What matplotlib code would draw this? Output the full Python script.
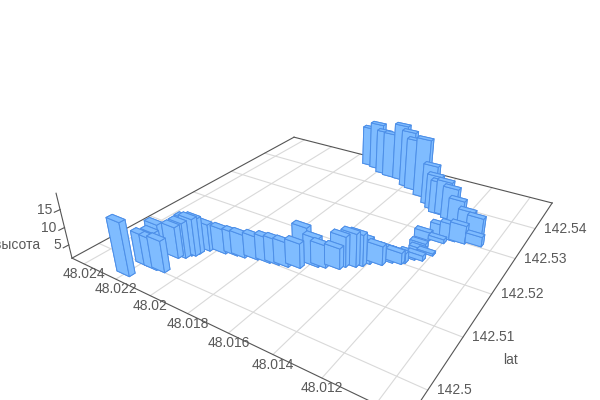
#!/usr/bin/env python3

import matplotlib
matplotlib.use("Agg")
import matplotlib.pyplot as plt
import matplotlib.transforms as mtrans
from mpl_toolkits.mplot3d import proj3d
import numpy as np

plt.rcParams['font.family'] = ['Liberation Sans', 'DejaVu Sans']

lng = [48.02205, 48.02195, 48.02145, 48.02105, 48.02187, 48.02208, 48.02134, 48.02108,
       48.02099, 48.02084, 48.02081, 48.02060, 48.01988, 48.01935, 48.01898, 48.01842,
       48.01784, 48.01743, 48.01701, 48.01655, 48.01655, 48.01596, 48.01567, 48.01513,
       48.01500, 48.01464, 48.01443, 48.01426, 48.01379, 48.01351, 48.01315, 48.01305,
       48.01282, 48.01251, 48.01231, 48.01270, 48.01281, 48.01294, 48.01231, 48.01248,
       48.01196, 48.01152, 48.01082, 48.01098, 48.01151, 48.01215, 48.01264, 48.01307,
       48.01336, 48.01369, 48.01407, 48.01477, 48.01551, 48.01588, 48.01657, 48.01721,
       48.01770, 48.01830, 48.01885]
lat = [142.4972, 142.5003, 142.5003, 142.5005, 142.5018, 142.5032, 142.5041, 142.5047,
       142.5056, 142.5059, 142.5066, 142.5080, 142.5087, 142.5092, 142.5094, 142.5100,
       142.5103, 142.5106, 142.5109, 142.5116, 142.5134, 142.5132, 142.5136, 142.5144,
       142.5153, 142.5161, 142.5168, 142.5178, 142.5185, 142.5198, 142.5202, 142.5207,
       142.5222, 142.5226, 142.5246, 142.5247, 142.5257, 142.5282, 142.5286, 142.5305,
       142.5300, 142.5302, 142.5308, 142.5321, 142.5330, 142.5344, 142.5358, 142.5367,
       142.5365, 142.5375, 142.5387, 142.5406, 142.5422, 142.5427, 142.5446, 142.5447,
       142.5452, 142.5465, 142.5470]
height = [16.0, 9.9, 9.8, 10.0, 9.4, 10.1, 10.0, 11.1, 11.7, 11.7, 11.2, 8.8, 8.1, 7.7, 7.7,
          7.7, 8.2, 8.2, 8.0, 8.1, 10.9, 9.2, 7.5, 7.0, 9.7, 10.5, 10.0, 8.1, 6.5, 4.9, 4.3,
          3.8, 2.7, 2.5, 1.65, 1.95, 2.5, 3.4, 2.2, 4.3, 5.9, 6.4, 3.9, 7.9, 8.0, 9.1, 10.8,
          11.5, 11.0, 11.7, 13.5, 19.4, 17.2, 19.0, 19.1, 15.5, 15.3, 16.3, 14.0]

lng_ticks = [48.024, 48.022, 48.02, 48.018, 48.016, 48.014, 48.012, 48.01]
lat_ticks = [142.5, 142.51, 142.52, 142.53, 142.54]
z_ticks = [5, 10, 15]
lng_lim = (48.0248, 48.0089)
lat_lim = (142.4953, 142.55)
z_lim = (1.1, 19.4)

fig = plt.figure(figsize=(6, 4), dpi=100)
ax = fig.add_axes([78.16 / 600, -51.41 / 400, 492.23 / 600, 492.23 / 400], projection='3d')
ax.set_proj_type('persp', focal_length=0.2241)
ax.view_init(elev=28.17, azim=-57.17)
ax.set_box_aspect((1, 1.0132, 0.1965))
ax.set_axis_off()
ax.computed_zorder = False

ax.set_xlim(*lng_lim, view_margin=0)
ax.set_ylim(*lat_lim, view_margin=0)
ax.set_zlim(*z_lim, view_margin=0)
proj = ax.get_proj()


def put_text(x, y, z, s, dx, dy, **kw):
    # plain 2D text at the projected point, moved by some pixels
    px, py, _ = proj3d.proj_transform(x, y, z, proj)
    trans = mtrans.offset_copy(ax.transData, fig=fig, x=dx, y=dy, units='dots')
    ax.text2D(px, py, s, transform=trans, color='#595959', fontsize=10, va='center', **kw)


for t in lng_ticks:
    ax.plot([t, t], lat_lim, [z_lim[0]] * 2, color='#d9d9d9', lw=0.8, zorder=1, clip_on=False)
for t in lat_ticks:
    ax.plot(lng_lim, [t, t], [z_lim[0]] * 2, color='#d9d9d9', lw=0.8, zorder=1, clip_on=False)

# floor outline and the height axis
edge = dict(color='#555555', lw=0.8, zorder=2, clip_on=False)
ax.plot(lng_lim, [lat_lim[0]] * 2, [z_lim[0]] * 2, **edge)
ax.plot(lng_lim, [lat_lim[1]] * 2, [z_lim[0]] * 2, **edge)
ax.plot([lng_lim[0]] * 2, lat_lim, [z_lim[0]] * 2, **edge)
ax.plot([lng_lim[1]] * 2, lat_lim, [z_lim[0]] * 2, **edge)
ax.plot([lng_lim[0]] * 2, [lat_lim[0]] * 2, z_lim, **edge)

for t in lng_ticks[:-1]:
    put_text(t, lat_lim[0], z_lim[0], f'{t:g}', 0, -10, ha='center')
for t in lat_ticks:
    put_text(lng_lim[1], t, z_lim[0], f'{t:g}', 9, 0, ha='left')
for t in z_ticks:
    ax.plot([lng_lim[0]] * 2, [lat_lim[0], lat_lim[0] - 0.0009], [t, t], **edge)
    put_text(lng_lim[0], lat_lim[0], t, str(t), -8, 0, ha='right')
put_text(lng_lim[0], lat_lim[0], 10, 'высота', -24, -17, ha='right')
put_text(lng_lim[1], 142.51, z_lim[0], 'lat', 48, -23, ha='center')

bar_lng = 0.00075
bar_lat = 0.001

# far bars first, so near ones paint over them
_, _, depth = proj3d.proj_transform(np.array(lng), np.array(lat), np.full(len(lng), z_lim[0]), proj)
order = np.argsort(depth)[::-1]
for rank, i in enumerate(order):
    ax.bar3d(lng[i] - bar_lng / 2, lat[i] - bar_lat / 2, z_lim[0],
             bar_lng, bar_lat, height[i] - z_lim[0],
             color='#7fbcff', edgecolor='#4d8fe8', linewidth=0.7, shade=False,
             zorder=3 + rank / 100)

ax.set_xlim(*lng_lim, view_margin=0)
ax.set_ylim(*lat_lim, view_margin=0)
ax.set_zlim(*z_lim, view_margin=0)

fig.savefig('out.png', dpi=100)
